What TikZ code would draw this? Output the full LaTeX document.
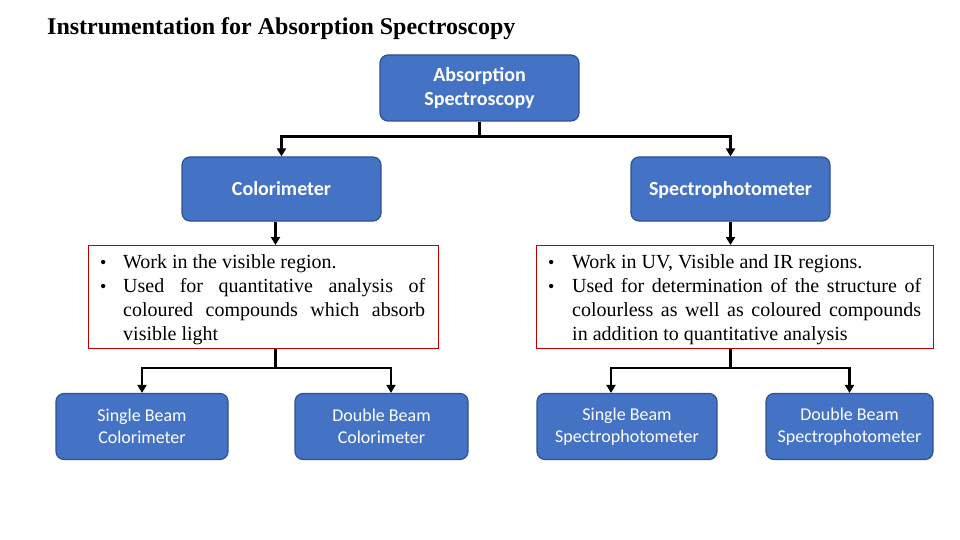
\documentclass[tikz,border=0pt]{standalone}
\usepackage{fontspec}
\setmainfont{Liberation Serif}
\newfontfamily\calibri{Carlito}
\usetikzlibrary{arrows.meta,calc}
\definecolor{boxblue}{HTML}{4472C4}
\definecolor{boxedge}{HTML}{2F528F}
\definecolor{redge}{HTML}{C00000}
\newcommand\bitem[3]{\makebox[#1][l]{\raisebox{0pt}{\fontsize{18}{18}\selectfont\textbullet}}\parbox[t]{#2}{\fontsize{20}{24}\selectfont\spaceskip=0.25em plus 1em minus 0.05em\relax #3}\par}
\tikzset{
  bluebox/.style={draw=boxedge, fill=boxblue, line width=1.2pt, rounded corners=8pt,
    text=white, align=center, font=\calibri\fontsize{18}{22}\selectfont, inner sep=0pt},
  bluebold/.style={bluebox, font=\calibri\bfseries\fontsize{20}{24}\selectfont},
  redbox/.style={draw=redge, line width=0.8pt, inner ysep=0pt, inner xsep=0pt, anchor=north west},
  redtext/.style={anchor=north west, inner sep=0pt, font=\fontsize{20}{24}\selectfont},
  conn/.style={line width=2.6pt, -{Triangle[length=8pt,width=9pt]}},
}
\begin{document}
\begin{tikzpicture}[x=1pt,y=-1pt]
\useasboundingbox (0,0) rectangle (960,540);
\node[anchor=west, font=\bfseries\fontsize{24}{26}\selectfont, inner sep=0pt] (title) at (47,29) {Instrumentation for Absorption Spectroscopy};
\node[bluebold, minimum width=199pt, minimum height=66pt] (top) at (479.5,88) {Absorption\\Spectroscopy};
\node[bluebold, minimum width=199pt, minimum height=64pt, text height=16pt, text depth=2pt] (col) at (281.5,189) {Colorimeter};
\node[bluebold, minimum width=199pt, minimum height=64pt, text height=16pt, text depth=2pt] (spec) at (730.5,189) {Spectrophotometer};
\node[redbox, minimum width=350pt, minimum height=103pt] (lred) at (88,245) {};
\node[redbox, minimum width=397pt, minimum height=103pt] (rred) at (536,245) {};
\node[redtext, text width=325pt] (ltext) at (100,254)
  {\bitem{23pt}{302pt}{Work in the visible region.}\bitem{23pt}{302pt}{Used for quantitative analysis of coloured compounds which absorb visible light}};
\node[redtext, text width=373pt] (rtext) at (548,254)
  {\bitem{24pt}{349pt}{Work in UV, Visible and IR regions.}\bitem{24pt}{349pt}{Used for determination of the structure of colourless as well as coloured compounds in addition to quantitative analysis}};
\node[bluebox, minimum width=172pt, minimum height=66pt] (b1) at (142,426.5) {Single Beam\\Colorimeter};
\node[bluebox, minimum width=173pt, minimum height=66pt] (b2) at (381.5,426.5) {Double Beam\\Colorimeter};
\node[bluebox, minimum width=180pt, minimum height=66pt] (b3) at (627,426.5) {Single Beam\\Spectrophotometer};
\node[bluebox, minimum width=167pt, minimum height=66pt] (b4) at (849.5,426.5) {Double Beam\\Spectrophotometer};
\draw[conn] (top.south) -- ++(0,15) -| (col.north);
\draw[conn] (top.south) -- ++(0,15) -| (spec.north);
\draw[conn] ([xshift=-6pt]col.south) -- ([xshift=-6pt]col.south |- lred.north);
\draw[conn] (spec.south) -- (spec.south |- rred.north);
\draw[conn] ([xshift=-6pt]col.south |- lred.south) -- ++(0,19) -| (b1.north);
\draw[conn] ([xshift=-6pt]col.south |- lred.south) -- ++(0,19) -| ([xshift=9.5pt]b2.north);
\draw[conn] (spec.south |- rred.south) -- ++(0,19) -| ([xshift=-16pt]b3.north);
\draw[conn] (spec.south |- rred.south) -- ++(0,19) -| (b4.north);
\end{tikzpicture}
\end{document}
